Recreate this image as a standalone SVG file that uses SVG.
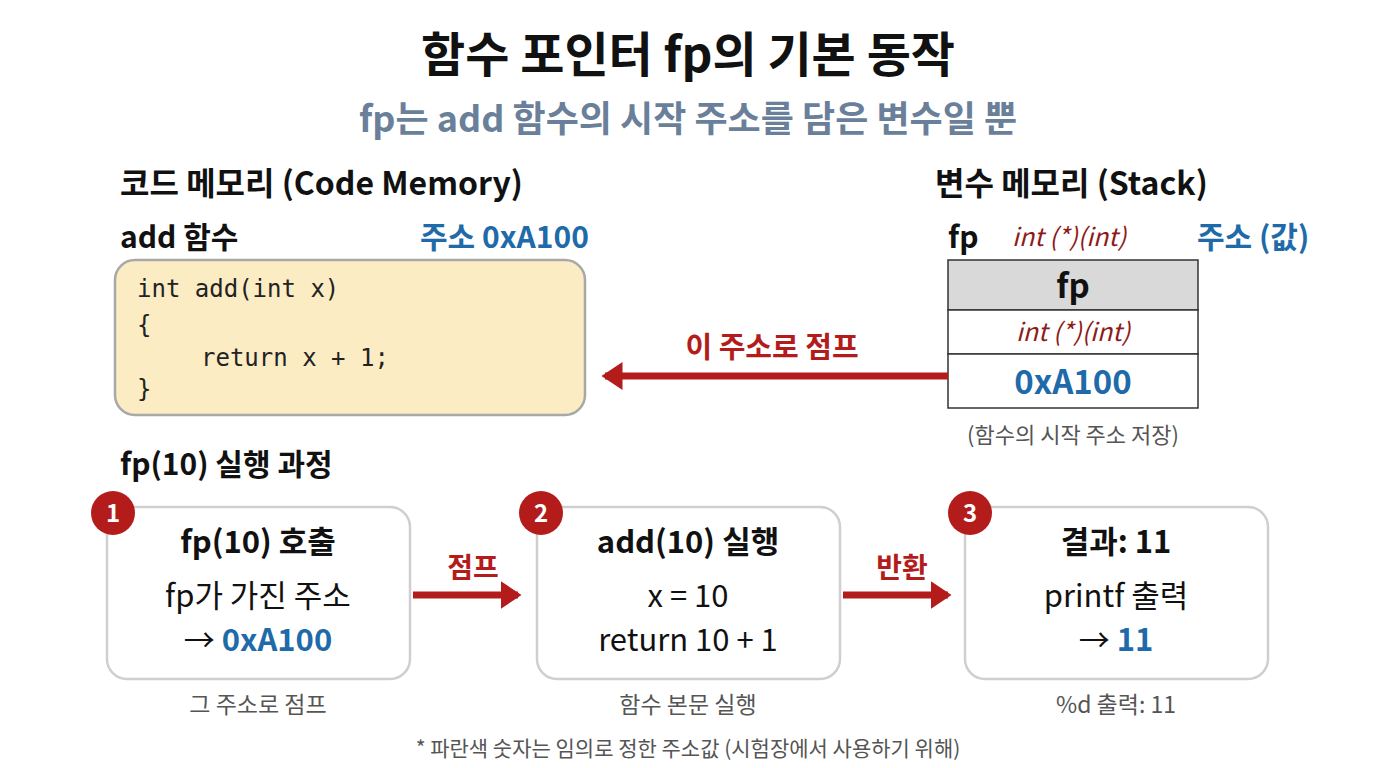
<svg xmlns="http://www.w3.org/2000/svg" width="1376" height="768" viewBox="0 0 1376 768">
<defs>
<style>
text{font-family:"Noto Sans CJK KR","Noto Sans",sans-serif}
.b{font-weight:bold}
.blue{fill:#1f6aa8}
.red{fill:#8e1b1b}
.mono{font-family:"DejaVu Sans Mono","Liberation Mono",monospace;font-size:24px;fill:#222}
.box{fill:#fff;stroke:#cfcfcf;stroke-width:2.5}
.gray{fill:#555}
.c{text-anchor:middle}
</style>
<marker id="ah" markerWidth="4" markerHeight="4" refX="2.5" refY="2" orient="auto" markerUnits="strokeWidth"><path d="M0,0 L3,2 L0,4 z" fill="#b41c1c"/></marker>
</defs>
<rect width="1376" height="768" fill="#fff"/>
<text x="688" y="72" class="b c" font-size="48" fill="#111">함수 포인터 fp의 기본 동작</text>
<text x="688" y="132" class="b c" font-size="36" fill="#6a7f99">fp는 add 함수의 시작 주소를 담은 변수일 뿐</text>
<g id="code">
<text x="120" y="195" class="b" font-size="32" fill="#111">코드 메모리 (Code Memory)</text>
<text x="120" y="248" class="b" font-size="30" fill="#111">add 함수</text>
<text x="420" y="248" class="b blue" font-size="30">주소 0xA100</text>
<rect x="115" y="260" width="470" height="155" rx="20" fill="#fbecc4" stroke="#a8a8a8" stroke-width="2.5"/>
<text x="137" y="297" class="mono">int add(int x)</text>
<text x="137" y="333" class="mono">{</text>
<text x="201" y="366" class="mono">return x + 1;</text>
<text x="137" y="397" class="mono">}</text>
</g>
<g id="stack">
<text x="935" y="195" class="b" font-size="32" fill="#111">변수 메모리 (Stack)</text>
<text x="948" y="248" class="b" font-size="30" fill="#111">fp</text>
<text x="1012" y="246" class="red" font-size="25" font-style="italic">int (*)(int)</text>
<text x="1197" y="248" class="b blue" font-size="30">주소 (값)</text>
<rect x="948" y="260" width="250" height="50" fill="#d9d9d9" stroke="#333" stroke-width="1.5"/>
<rect x="948" y="310" width="250" height="44" fill="#fff" stroke="#333" stroke-width="1.5"/>
<rect x="948" y="354" width="250" height="54" fill="#fff" stroke="#333" stroke-width="1.5"/>
<text x="1073" y="298" class="b c" font-size="33" fill="#111">fp</text>
<text x="1073" y="341" class="c red" font-size="25" font-style="italic">int (*)(int)</text>
<text x="1073" y="394" class="b c blue" font-size="33">0xA100</text>
<text x="1073" y="443" class="c gray" font-size="22">(함수의 시작 주소 저장)</text>
</g>
<text x="120" y="475" class="b" font-size="30" fill="#111">fp(10) 실행 과정</text>
<g id="step1">
<rect x="107" y="507" width="303" height="172" rx="20" class="box"/>
<text x="258" y="553" class="b c" font-size="31" fill="#111">fp(10) 호출</text>
<text x="258" y="607" class="c" font-size="31" fill="#111">fp가 가진 주소</text>
<text x="258" y="651" class="c" font-size="31" fill="#111">→ <tspan class="b blue">0xA100</tspan></text>
<text x="258" y="713" class="c gray" font-size="23">그 주소로 점프</text>
<circle cx="113" cy="513" r="22" fill="#b41c1c"/><text x="113" y="522" class="b c" font-size="24" fill="#fff">1</text>
</g>
<g id="step2">
<rect x="537" y="507" width="303" height="172" rx="20" class="box"/>
<text x="688" y="553" class="b c" font-size="31" fill="#111">add(10) 실행</text>
<text x="688" y="607" class="c" font-size="31" fill="#111">x = 10</text>
<text x="688" y="651" class="c" font-size="31" fill="#111">return 10 + 1</text>
<text x="688" y="713" class="c gray" font-size="23">함수 본문 실행</text>
<circle cx="541" cy="513" r="22" fill="#b41c1c"/><text x="541" y="522" class="b c" font-size="24" fill="#fff">2</text>
</g>
<g id="step3">
<rect x="965" y="507" width="303" height="172" rx="20" class="box"/>
<text x="1116" y="553" class="b c" font-size="31" fill="#111">결과: 11</text>
<text x="1116" y="607" class="c" font-size="31" fill="#111">printf 출력</text>
<text x="1116" y="651" class="c" font-size="31" fill="#111">→ <tspan class="b blue">11</tspan></text>
<text x="1116" y="713" class="c gray" font-size="23">%d 출력: 11</text>
<circle cx="970" cy="513" r="22" fill="#b41c1c"/><text x="970" y="522" class="b c" font-size="24" fill="#fff">3</text>
</g>
<g id="connectors" stroke="#b41c1c" stroke-width="7" fill="none">
<line x1="948" y1="376" x2="605" y2="376" marker-end="url(#ah)"/>
<line x1="413" y1="595" x2="518" y2="595" marker-end="url(#ah)"/>
<line x1="843" y1="595" x2="948" y2="595" marker-end="url(#ah)"/>
</g>
<text x="772" y="358" class="b c" font-size="29" fill="#b41c1c">이 주소로 점프</text>
<text x="473" y="578" class="b c" font-size="28" fill="#b41c1c">점프</text>
<text x="902" y="578" class="b c" font-size="28" fill="#b41c1c">반환</text>
<text x="688" y="756" class="c gray" font-size="21">* 파란색 숫자는 임의로 정한 주소값 (시험장에서 사용하기 위해)</text>
</svg>
